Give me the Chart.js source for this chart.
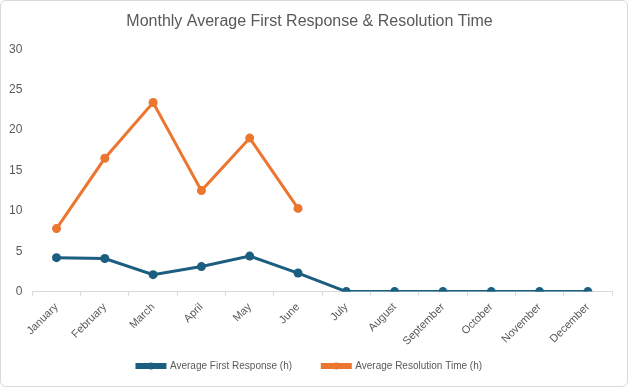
<!DOCTYPE html>
<html>
<head>
<meta charset="utf-8">
<script src="https://cdn.jsdelivr.net/npm/chart.js@4"></script>
<style>
  html, body { margin: 0; padding: 0; background: #fff; }
  #wrap { width: 628px; height: 387px; box-sizing: border-box; border: 1px solid #d9d9d9; border-radius: 6px; position: relative; }
</style>
</head>
<body>
<div id="wrap"><canvas id="myChart_1"></canvas></div>
<script>
const months = ["January", "February", "March", "April", "May", "June", "July", "August", "September", "October", "November", "December"];
const firstResponse = [4.2, 4.1, 2.1, 3.1, 4.4, 2.3, 0, 0, 0, 0, 0, 0];
const resolutionTime = [7.8, 16.5, 23.4, 12.5, 19.0, 10.3, null, null, null, null, null, null];
const yTicks = [0, 5, 10, 15, 20, 25, 30];

const fontName = "'Liberation Sans', Arial, sans-serif";
const grey = "#595959";

// draws the little dot in the middle of each legend line
const legendDots = {
  id: "legendDots",
  afterDraw(chart) {
    const lg = chart.legend;
    if (!lg || !lg.legendHitBoxes) return;
    const c = chart.ctx;
    lg.legendHitBoxes.forEach((box, i) => {
      const ds = chart.data.datasets[i];
      c.save();
      c.fillStyle = ds.borderColor;
      c.beginPath();
      c.arc(box.left + 14, box.top + box.height / 2, 3.5, 0, Math.PI * 2);
      c.fill();
      c.restore();
    });
  }
};

const ctx = document.getElementById("myChart_1").getContext("2d");
const config = {
  type: "line",
  data: {
    labels: months,
    datasets: [
      {
        label: "Average First Response (h)",
        data: firstResponse,
        borderColor: "#1b5e7f",
        backgroundColor: "#1b5e7f",
        borderWidth: 3,
        pointRadius: 4.5,
        pointBorderWidth: 0,
        pointHoverRadius: 4.5,
        fill: false,
      },
      {
        label: "Average Resolution Time (h)",
        data: resolutionTime,
        borderColor: "#ec7530",
        backgroundColor: "#ec7530",
        borderWidth: 3,
        pointRadius: 4.5,
        pointBorderWidth: 0,
        pointHoverRadius: 4.5,
        fill: false,
      },
    ],
  },
  options: {
    responsive: true,
    maintainAspectRatio: false,
    animation: false,
    layout: { padding: { left: 6, right: 15, top: 2, bottom: 5 } },
    plugins: {
      title: {
        display: true,
        text: "Monthly Average First Response & Resolution Time",
        color: grey,
        font: { family: fontName, size: 16, weight: "normal" },
        padding: { top: 9, bottom: 18 },
      },
      legend: {
        position: "bottom",
        labels: {
          color: grey,
          font: { family: fontName, size: 10 },
          boxWidth: 28,
          boxHeight: 3,
          padding: 8,
          generateLabels(chart) {
            const items = Chart.defaults.plugins.legend.labels.generateLabels(chart);
            items[0].text = items[0].text + "        ";
            return items;
          },
        },
      },
      tooltip: { enabled: false },
    },
    scales: {
      y: {
        min: 0,
        max: 30,
        afterBuildTicks: (axis) => { axis.ticks = yTicks.map(v => ({ value: v })); },
        grid: { display: false },
        border: { display: false },
        ticks: { color: grey, font: { family: fontName, size: 12 }, padding: 2 },
      },
      x: {
        offset: true,
        grid: { display: true, drawOnChartArea: false, tickLength: 4, color: "#d9d9d9", offset: true },
        border: { display: true, color: "#d9d9d9" },
        ticks: { color: grey, font: { family: fontName, size: 11 }, maxRotation: 45, minRotation: 45, padding: 5 },
      },
    },
  },
  plugins: [legendDots],
};

const myChart_1 = new Chart(ctx, config);
</script>
</body>
</html>
